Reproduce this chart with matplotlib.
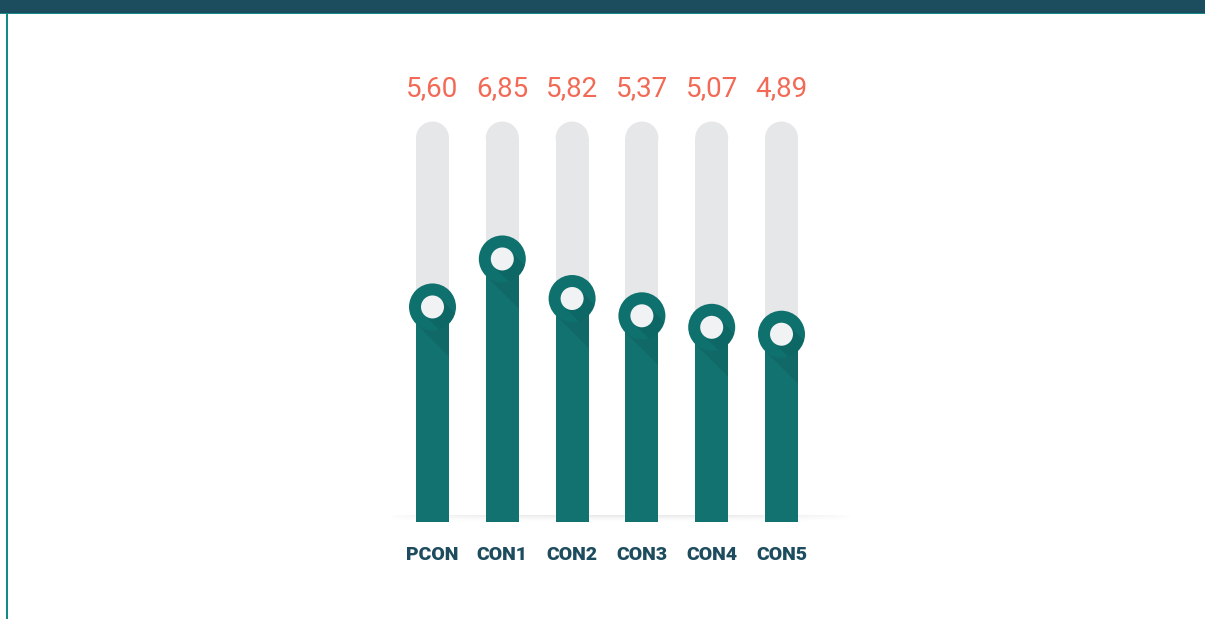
import numpy as np
import matplotlib
matplotlib.use("Agg")
import matplotlib.pyplot as plt
import matplotlib.transforms as mtransforms
from matplotlib.patches import Circle, Polygon, Rectangle

# ---- data ----
categories = ["PCON", "CON1", "CON2", "CON3", "CON4", "CON5"]
values = [5.60, 6.85, 5.82, 5.37, 5.07, 4.89]
scale_max = 10

# ---- style ----
TEAL = "#12726f"
RING = "#0f716e"
GRAY = "#e6e7e9"
INNER = "#f1f2f4"
VALUE_C = "#f26a55"
LABEL_C = "#1c4c5e"
TOP_C = "#1c4d5e"
EDGE_C = "#15898a"

W, H, DPI = 1205, 619, 100
fig = plt.figure(figsize=(W / DPI, H / DPI), dpi=DPI)
fig.patch.set_facecolor("white")
ax = fig.add_axes([0, 0, 1, 1])
ax.set_axis_off()

# layout: map category index / value to pixel positions
x0_px, dx_px = 432.5, 69.8
base_px, unit_px = 97.0, 38.4
ax.set_xlim(-x0_px / dx_px, (W - x0_px) / dx_px)
ax.set_ylim(-base_px / unit_px, (H - base_px) / unit_px)

bar_w = 33.0 / dx_px
x = np.arange(len(categories))

def ptrans(xv, yv):
    return fig.dpi_scale_trans + mtransforms.ScaledTranslation(xv, yv, ax.transData)

# floor shadow
grad = np.zeros((20, 200, 4))
xs = np.linspace(-1, 1, 200)
ys = np.linspace(0, 1, 20)
alpha = (1 - xs[None, :] ** 2) ** 0.6 * (ys[:, None] ** 1.5) * 0.16
grad[..., 0:3] = 0.45
grad[..., 3] = alpha
ax.imshow(grad, extent=(-0.62, 6.0, 0.0, 0.16), origin="lower",
          aspect="auto", zorder=0.5, interpolation="bilinear")

# gray background tracks
ax.bar(x, [scale_max] * len(x), width=bar_w, color=GRAY, zorder=1, linewidth=0)
cap_r = 16.5 / DPI
for xi in x:
    ax.add_patch(Circle((0, 0), cap_r, transform=ptrans(xi, scale_max),
                        color=GRAY, zorder=1, linewidth=0))

# value bars
bars = ax.bar(x, values, width=bar_w, color=TEAL, zorder=2, linewidth=0)

r_out = 23.5 / DPI
r_in = 11.5 / DPI
L = 6.0
d = np.array([1.0, -1.0]) / np.sqrt(2)
n = np.array([1.0, 1.0]) / np.sqrt(2)

def shadow_poly(r, tr, z, a):
    pts = [r * n, -r * n, -r * n + L * d, r * n + L * d]
    return Polygon(pts, closed=True, transform=tr, facecolor="black",
                   alpha=a, linewidth=0, zorder=z)

for xi, v, b in zip(x, values, bars):
    tr = ptrans(xi, v)
    sp = shadow_poly(r_out, tr, 2.5, 0.07)
    ax.add_patch(sp)
    sp.set_clip_path(b)
    ring = Circle((0, 0), r_out, transform=tr, facecolor=RING,
                  linewidth=0, zorder=3)
    ax.add_patch(ring)
    sp2 = shadow_poly(r_in, tr, 3.5, 0.08)
    ax.add_patch(sp2)
    sp2.set_clip_path(ring)
    ax.add_patch(Circle((0, 0), r_in, transform=tr, facecolor=INNER,
                        linewidth=0, zorder=4))

fam = ["Roboto", "DejaVu Sans"]
for xi, v in zip(x, values):
    ax.text(xi, 11.1, f"{v:.2f}".replace(".", ","), ha="center", va="baseline",
            fontsize=20, color=VALUE_C, family=fam, fontweight="normal",
            fontstretch="condensed")
for xi, c in zip(x, categories):
    ax.text(xi, -0.98, c, ha="center", va="baseline", fontsize=14,
            color=LABEL_C, family=fam, fontweight="black",
            fontstretch="condensed")

# frame decorations
fig.add_artist(Rectangle((0, 1 - 13 / H), 1, 13 / H, transform=fig.transFigure,
                         facecolor=TOP_C, linewidth=0, zorder=10))
fig.add_artist(Rectangle((0, 1 - 14 / H), 1, 1.5 / H, transform=fig.transFigure,
                         facecolor=EDGE_C, linewidth=0, zorder=10))
fig.add_artist(Rectangle((6 / W, 0), 1.6 / W, 1 - 13 / H, transform=fig.transFigure,
                         facecolor=EDGE_C, linewidth=0, zorder=10))

fig.savefig("out.png", dpi=DPI, facecolor="white")
